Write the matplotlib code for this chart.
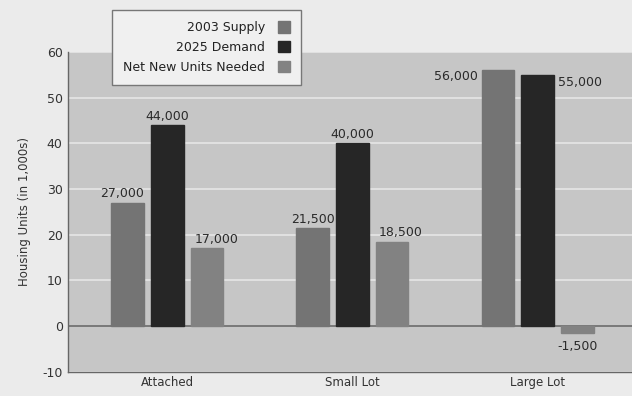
import matplotlib.pyplot as plt
import numpy as np
from matplotlib.patches import Patch

## -- data (in 1,000s of units)
categories = ["Attached", "Small Lot", "Large Lot"]
series_names = ["2003 Supply", "2025 Demand", "Net New Units Needed"]
supply_2003 = [27.0, 21.5, 56.0]
demand_2025 = [44.0, 40.0, 55.0]
net_needed = [17.0, 18.5, -1.5]
value_labels = [["27,000", "21,500", "56,000"],
                ["44,000", "40,000", "55,000"],
                ["17,000", "18,500", "-1,500"]]
yticks = [-10, 0, 10, 20, 30, 40, 50, 60]

## -- styling
colors = ["#747474", "#262626", "#828282"]
## label placement, [series][category]: (dx in data units, dy, ha, va)
label_pos = [
  [(-0.03, 0.5, "center", "bottom"), (0.0, 0.5, "center", "bottom"), (-0.11, -1.3, "right", "center")],
  [(0.0, 0.5, "center", "bottom"), (0.0, 0.5, "center", "bottom"), (0.11, -1.6, "left", "center")],
  [(0.05, 0.5, "center", "bottom"), (0.045, 0.5, "center", "bottom"), (0.0, -1.6, "center", "top")],
]

fig = plt.figure(figsize=(6.32, 3.96), dpi=100)
fig.patch.set_facecolor("#ebebeb")
ax = fig.add_axes([0.108, 0.061, 0.892, 0.808])
ax.set_facecolor("#c6c6c6")

x = np.arange(len(categories))
width = 0.175
step = 0.215
allvals = [supply_2003, demand_2025, net_needed]
for i, vals in enumerate(allvals):
  xs = x + (i - 1) * step
  ax.bar(xs, vals, width=width, color=colors[i], edgecolor=colors[i], zorder=3)
  for j, v in enumerate(vals):
    dx, dy, ha, va = label_pos[i][j]
    ax.text(xs[j] + dx, v + dy, value_labels[i][j], ha=ha, va=va,
            fontsize=9, color="#2a2a2a", zorder=4)

ax.set_xlim(-0.535, 2.51)
ax.set_ylim(-10, 60)
ax.set_yticks(yticks)
ax.set_yticklabels([str(t) for t in yticks], fontsize=9, color="#333333")
ax.set_xticks(x)
ax.set_xticklabels(categories, fontsize=8.5, color="#333333")
ax.tick_params(axis="both", length=0, pad=4)
ax.tick_params(axis="x", pad=3)
ax.yaxis.grid(True, color="#e6e6e6", lw=1.2, zorder=1)
ax.axhline(0, color="#666666", lw=1.2, zorder=2)
for s in ["top", "right"]:
  ax.spines[s].set_visible(False)
for s in ["left", "bottom"]:
  ax.spines[s].set_color("#666666")
  ax.spines[s].set_linewidth(1.0)
ax.set_ylabel("Housing Units (in 1,000s)", fontsize=8.5, color="#333333", labelpad=8)

## -- legend
handles = [Patch(facecolor=c, edgecolor=c) for c in colors]
leg = fig.legend(handles, series_names, loc="upper left",
                 bbox_to_anchor=(112 / 632, 1 - 10 / 396), markerfirst=False,
                 fontsize=9, frameon=True, fancybox=False, handlelength=1.0,
                 handleheight=1.0, handletextpad=1.0, labelspacing=0.55,
                 borderpad=0.9, borderaxespad=0)
leg.get_frame().set_facecolor("#f0f0f0")
leg.get_frame().set_edgecolor("#777777")
leg.get_frame().set_alpha(1)
for t in leg.get_texts():
  t.set_ha("right")
  t.set_color("#222222")
leg._legend_box.align = "right"

fig.savefig("out.png", dpi=100, facecolor=fig.get_facecolor())
